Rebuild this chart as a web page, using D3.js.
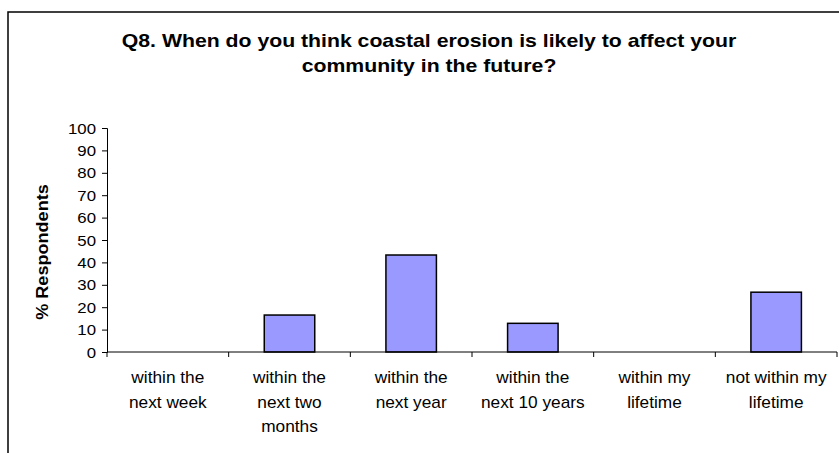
<!DOCTYPE html>
<html><head><meta charset="utf-8">
<script src="https://cdn.jsdelivr.net/npm/d3@7/dist/d3.min.js"></script>
<style>body{margin:0;background:#fff;} svg{display:block;font-family:"Liberation Sans",Arial,sans-serif;}</style>
</head><body>
<svg id="c" width="839" height="453"></svg>
<script>
const categories = [
  ["within the","next week"],
  ["within the","next two","months"],
  ["within the","next year"],
  ["within the","next 10 years"],
  ["within my","lifetime"],
  ["not within my","lifetime"]
];
const values = [0, 16.5, 43.3, 12.8, 0, 26.7];
const yTicks = [0,10,20,30,40,50,60,70,80,90,100];
const titleLines = ["Q8. When do you think coastal erosion is likely to affect your","community in the future?"];
const yTitle = "% Respondents";

(function(){
const svg = d3.select("#c");
svg.append("rect").attr("x",8).attr("y",12).attr("width",850).attr("height",460)
  .attr("fill","#fff").attr("stroke","#000").attr("stroke-width",1.5);

const pL = 107, pR = 837, pT = 128, pB = 352;
const x = d3.scaleBand().domain(d3.range(categories.length)).range([pL,pR]).paddingInner(0.585).paddingOuter(0.2925);
const xb = d3.scaleBand().domain(d3.range(categories.length)).range([pL,pR]);
const y = d3.scaleLinear().domain([0,100]).range([pB,pT]);

svg.append("g").selectAll("text").data(titleLines).join("text")
  .attr("transform",(d,i)=>`translate(429,${46.5+i*25.5}) scale(1.18,1)`).attr("text-anchor","middle")
  .attr("font-size",18).attr("font-weight","bold").attr("fill","#000").text(d=>d);

const ya = svg.append("g").attr("transform",`translate(${pL},0)`)
  .call(d3.axisLeft(y).tickValues(yTicks).tickSize(5).tickPadding(6));
ya.select(".domain").attr("stroke","#000");
ya.selectAll(".tick line").attr("stroke","#000");
ya.selectAll("text").attr("x",0).attr("dy","0.34em").attr("transform","translate(-11,0) scale(1.12,1)")
  .attr("font-size",15).attr("fill","#000").attr("font-family","Liberation Sans, Arial, sans-serif");

svg.append("text").attr("transform",`translate(48,${(pT+pB)/2+12}) rotate(-90) scale(1.13,1)`)
  .attr("text-anchor","middle").attr("font-size",16).attr("font-weight","bold").text(yTitle);

const data = values.map((v,i)=>({i,v})).filter(d=>d.v>0);
svg.append("g").selectAll("rect").data(data).join("rect")
  .attr("x",d=>x(d.i)).attr("width",x.bandwidth())
  .attr("y",d=>y(d.v)).attr("height",d=>y(0)-y(d.v))
  .attr("fill","#9999FF").attr("stroke","#000").attr("stroke-width",1.5);

const xg = svg.append("g");
xg.append("line").attr("x1",pL).attr("x2",pR).attr("y1",y(0)).attr("y2",y(0)).attr("stroke","#000");
const bounds = d3.range(categories.length+1).map(i=> i<categories.length ? xb(i) : xb(categories.length-1)+xb.bandwidth());
xg.selectAll("line.t").data(bounds).join("line").attr("class","t")
  .attr("x1",d=>d).attr("x2",d=>d).attr("y1",y(0)).attr("y2",y(0)+5).attr("stroke","#000");

const lab = svg.append("g").selectAll("g").data(categories).join("g")
  .attr("transform",(d,i)=>`translate(${xb(i)+xb.bandwidth()/2},0) scale(1.08,1)`);
lab.each(function(d){
  d3.select(this).selectAll("text").data(d).join("text")
    .attr("text-anchor","middle").attr("font-size",16).attr("fill","#000")
    .attr("y",(t,j)=>383.5+j*24.2).text(t=>t);
});
})();
</script>
</body></html>
